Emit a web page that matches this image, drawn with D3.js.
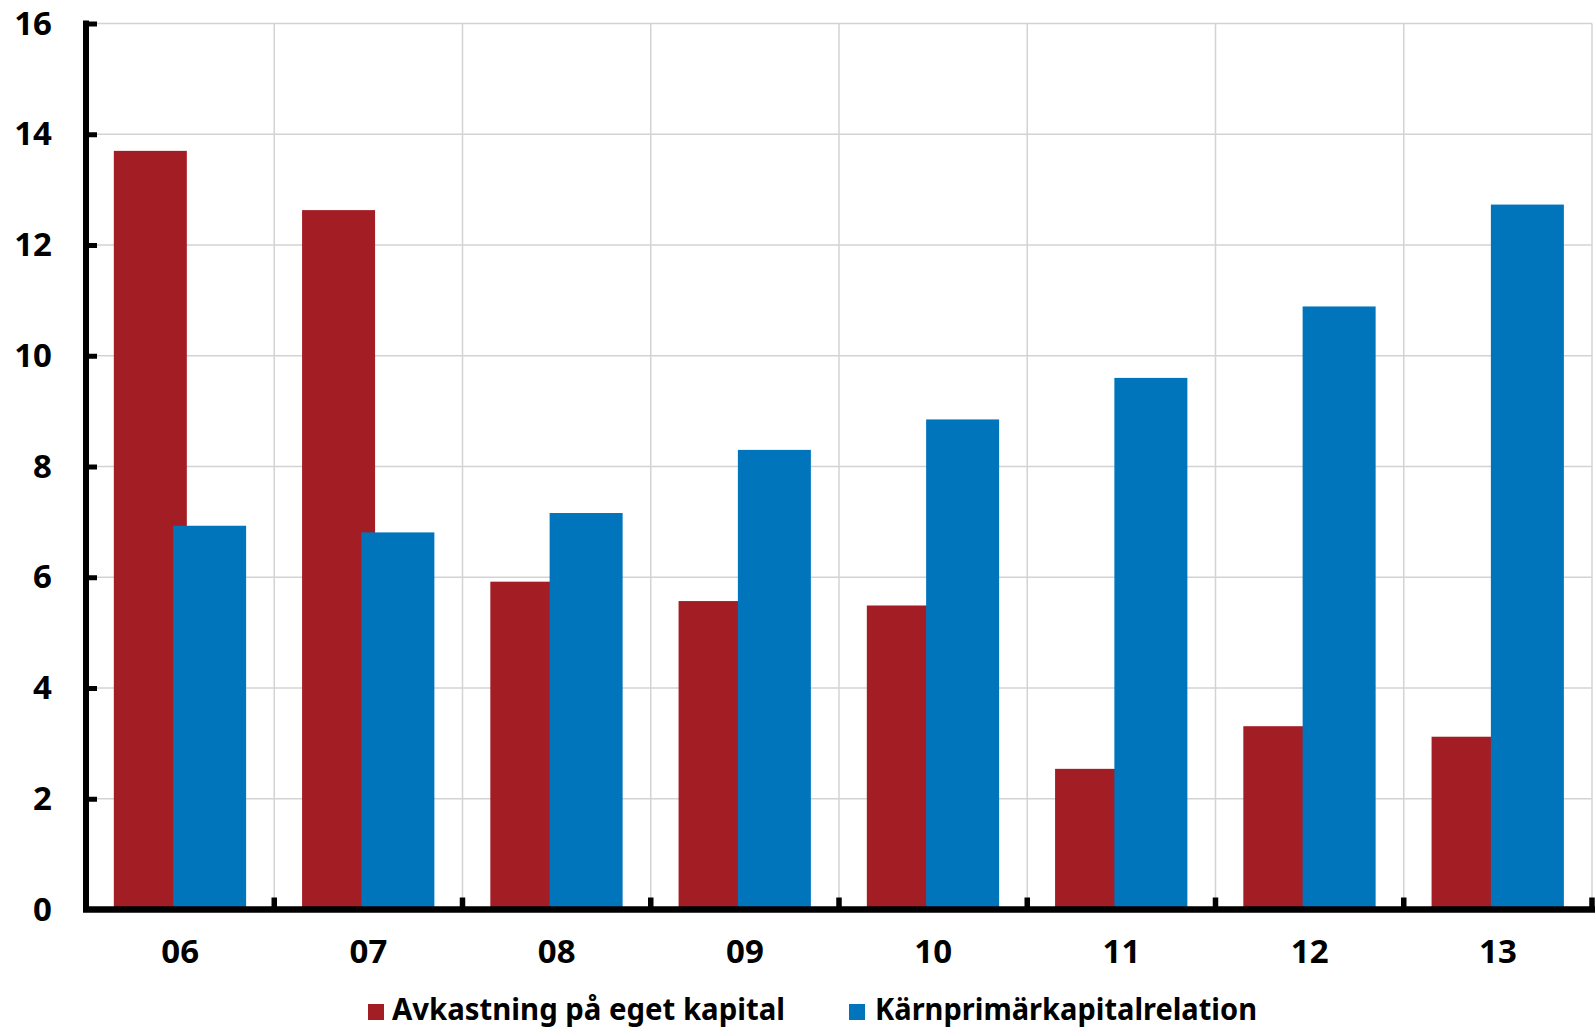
<!DOCTYPE html>
<html>
<head>
<meta charset="utf-8">
<script src="https://cdn.jsdelivr.net/npm/d3@7/dist/d3.min.js"></script>
<style>
  html, body { margin: 0; padding: 0; background: #fff; }
  svg { display: block; }
  text { font-family: "Noto Sans", "Open Sans", sans-serif; font-weight: 700; fill: #000; }
</style>
</head>
<body>
<svg id="chart" width="1595" height="1028"></svg>
<script>
const categories = ["06", "07", "08", "09", "10", "11", "12", "13"];
const seriesNames = ["Avkastning på eget kapital", "Kärnprimärkapitalrelation"];
const roeValues = [13.70, 12.63, 5.92, 5.57, 5.49, 2.54, 3.31, 3.12];
const cet1Values = [6.93, 6.81, 7.16, 8.30, 8.85, 9.60, 10.89, 12.73];
const yTicks = [0, 2, 4, 6, 8, 10, 12, 14, 16];
const colors = ["#A31D24", "#0075BC"];

(function () {
const svg = d3.select("#chart");
const pLeft = 86, pRight = 1592, pTop = 23.5, pBottom = 909.5;

const x = d3.scaleBand().domain(categories).range([pLeft, pRight]).paddingInner(0).paddingOuter(0);
const y = d3.scaleLinear().domain([0, 16]).range([pBottom, pTop]);

// gridlines
const grid = svg.append("g");
grid.selectAll("line.h").data(yTicks.filter(d => d > 0)).join("line")
  .attr("class", "h")
  .attr("x1", pLeft).attr("x2", pRight)
  .attr("y1", d => y(d)).attr("y2", d => y(d))
  .attr("stroke", "#d3d3d3").attr("stroke-width", 1.5);
const boundaries = categories.map(c => x(c) + x.bandwidth());
grid.selectAll("line.v").data(boundaries).join("line")
  .attr("class", "v")
  .attr("x1", d => d).attr("x2", d => d)
  .attr("y1", pTop).attr("y2", pBottom)
  .attr("stroke", "#d3d3d3").attr("stroke-width", 1.5);

// bars
const bw = 73;
const offsets = [-66.3, -7];
const series = [roeValues, cet1Values];
series.forEach((vals, si) => {
  svg.append("g").selectAll("rect").data(categories).join("rect")
    .attr("x", (c) => x(c) + x.bandwidth() / 2 + offsets[si])
    .attr("width", bw)
    .attr("y", (c, i) => y(vals[i]))
    .attr("height", (c, i) => y(0) - y(vals[i]))
    .attr("fill", colors[si]);
});

// y axis
const yAxis = svg.append("g").attr("transform", `translate(${pLeft},0)`)
  .call(d3.axisLeft(y).tickValues(yTicks).tickSizeInner(-11).tickSizeOuter(0).tickPadding(34).tickFormat(d3.format("d")));
yAxis.select(".domain").attr("stroke", "#000").attr("stroke-width", 6)
  .attr("d", `M0,${pTop - 3}V${pBottom}`);
yAxis.selectAll(".tick line").attr("stroke", "#000").attr("stroke-width", 5);
yAxis.selectAll(".tick").filter(d => d === 0).select("line").remove();
yAxis.selectAll(".tick text").attr("font-size", 33).attr("font-family", "Noto Sans").attr("font-weight", 700).attr("fill", "#000");

// x axis
const xAxis = svg.append("g").attr("transform", `translate(0,${pBottom})`)
  .call(d3.axisBottom(x).tickSize(0).tickPadding(30));
xAxis.select(".domain").attr("stroke", "#000").attr("stroke-width", 6.5)
  .attr("d", `M${pLeft - 3},0H${pRight + 3}`);
xAxis.selectAll(".tick text").attr("font-size", 33).attr("font-family", "Noto Sans").attr("font-weight", 700).attr("fill", "#000");
xAxis.selectAll("line.bound").data(boundaries).join("line")
  .attr("class", "bound")
  .attr("x1", d => d).attr("x2", d => d)
  .attr("y1", 0).attr("y2", -12)
  .attr("stroke", "#000").attr("stroke-width", 5.5);

// legend
const legendItems = [
  { name: seriesNames[0], color: colors[0], sx: 368, tx: 392, tw: 393 },
  { name: seriesNames[1], color: colors[1], sx: 849, tx: 875, tw: 382 }
];
const lg = svg.append("g");
legendItems.forEach(it => {
  lg.append("rect").attr("x", it.sx).attr("y", 1004).attr("width", 16).attr("height", 16).attr("fill", it.color);
  lg.append("text").attr("x", it.tx).attr("y", 1020)
    .attr("font-size", 31)
    .attr("textLength", it.tw).attr("lengthAdjust", "spacingAndGlyphs")
    .text(it.name);
});
})();
</script>
</body>
</html>
